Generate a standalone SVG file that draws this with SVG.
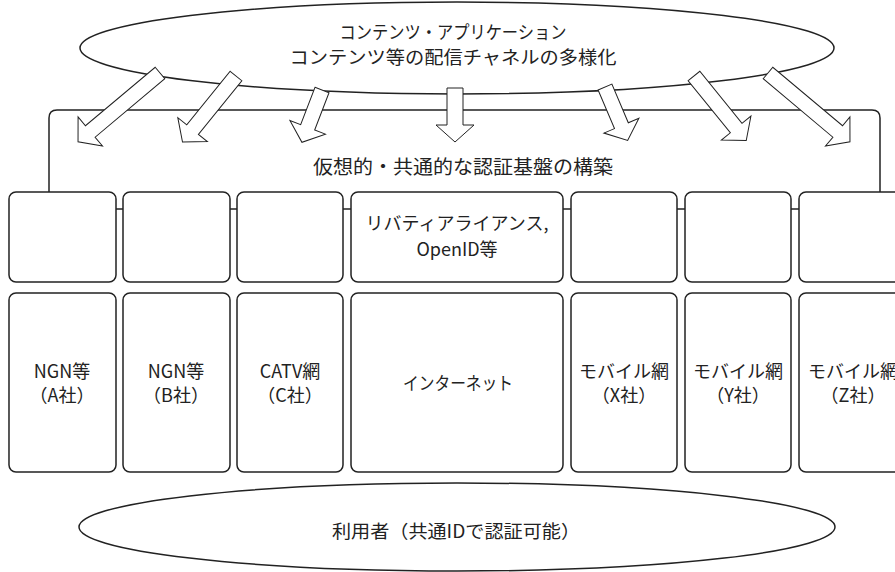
<svg xmlns="http://www.w3.org/2000/svg" width="895" height="572" viewBox="0 0 895 572">
<style>
.ln{fill:none;stroke:#222;stroke-width:1.5}
.bx{fill:#fff;stroke:#222;stroke-width:1.5}
.ar{fill:#fff;stroke:#222;stroke-width:1;stroke-linejoin:miter}
text{font-family:"Noto Sans CJK JP","Noto Sans",sans-serif;font-size:18px;fill:#222;text-anchor:middle}
.big{font-size:19px}
</style>
<rect width="895" height="572" fill="#fff"/>
<g id="apps">
<ellipse class="bx" cx="457" cy="48" rx="377" ry="46"/>
<text x="453" y="39" textLength="227" lengthAdjust="spacingAndGlyphs">コンテンツ・アプリケーション</text>
<text x="453" y="64" textLength="327" lengthAdjust="spacingAndGlyphs">コンテンツ等の配信チャネルの多様化</text>
</g>
<g id="platform">
<path class="ln" d="M49,192 V118 Q49,110 57,110 H872 Q880,110 880,118 V192"/>
<text class="big" x="463" y="174" textLength="300" lengthAdjust="spacingAndGlyphs">仮想的・共通的な認証基盤の構築</text>
</g>
<g id="connectors">
<g class="ln">
<line x1="116" y1="209" x2="123" y2="209"/>
<line x1="230" y1="209" x2="237" y2="209"/>
<line x1="343" y1="209" x2="351" y2="209"/>
<line x1="563" y1="209" x2="571" y2="209"/>
<line x1="677" y1="209" x2="685" y2="209"/>
<line x1="791" y1="209" x2="799" y2="209"/>
</g>
<polygon class="ar" transform="translate(160,73) rotate(50)" points="-7.5,0 7.5,0 7.5,91 19,91 0,107 -19,91 -7.5,91"/>
<polygon class="ar" transform="translate(236,76) rotate(39)" points="-7.5,0 7.5,0 7.5,69 19,69 0,85 -19,69 -7.5,69"/>
<polygon class="ar" transform="translate(322,90) rotate(21)" points="-7.5,0 7.5,0 7.5,40 19,40 0,56 -19,40 -7.5,40"/>
<polygon class="ar" transform="translate(455,88)" points="-8,0 8,0 8,37 19,37 0,54 -19,37 -8,37"/>
<polygon class="ar" transform="translate(605,87) rotate(-23)" points="-7.5,0 7.5,0 7.5,42 19,42 0,58 -19,42 -7.5,42"/>
<polygon class="ar" transform="translate(694,76) rotate(-39)" points="-7.5,0 7.5,0 7.5,67 19,67 0,83 -19,67 -7.5,67"/>
<polygon class="ar" transform="translate(768,73) rotate(-50)" points="-7.5,0 7.5,0 7.5,91 19,91 0,107 -19,91 -7.5,91"/>
</g>
<g id="auth1"><rect class="bx" x="9" y="192" width="107" height="90" rx="7"/></g>
<g id="auth2"><rect class="bx" x="123" y="192" width="107" height="90" rx="7"/></g>
<g id="auth3"><rect class="bx" x="237" y="192" width="106" height="90" rx="7"/></g>
<g id="auth4"><rect class="bx" x="351" y="192" width="212" height="90" rx="7"/>
<text x="457" y="230">リバティアライアンス,</text>
<text x="457" y="256">OpenID等</text></g>
<g id="auth5"><rect class="bx" x="571" y="192" width="106" height="90" rx="7"/></g>
<g id="auth6"><rect class="bx" x="685" y="192" width="106" height="90" rx="7"/></g>
<g id="auth7"><rect class="bx" x="799" y="192" width="120" height="90" rx="7"/></g>
<g id="netA"><rect class="bx" x="9" y="293" width="107" height="179" rx="7"/>
<text x="62" y="378">NGN等</text><text x="62" y="402">（A社）</text></g>
<g id="netB"><rect class="bx" x="123" y="293" width="107" height="179" rx="7"/>
<text x="176" y="378">NGN等</text><text x="176" y="402">（B社）</text></g>
<g id="netC"><rect class="bx" x="237" y="293" width="106" height="179" rx="7"/>
<text x="290" y="378">CATV網</text><text x="290" y="402">（C社）</text></g>
<g id="internet"><rect class="bx" x="351" y="293" width="212" height="179" rx="7"/>
<text x="458" y="390" textLength="110" lengthAdjust="spacingAndGlyphs">インターネット</text></g>
<g id="netX"><rect class="bx" x="571" y="293" width="106" height="179" rx="7"/>
<text x="624" y="378">モバイル網</text><text x="624" y="402">（X社）</text></g>
<g id="netY"><rect class="bx" x="685" y="293" width="106" height="179" rx="7"/>
<text x="738" y="378">モバイル網</text><text x="738" y="402">（Y社）</text></g>
<g id="netZ"><rect class="bx" x="799" y="293" width="120" height="179" rx="7"/>
<text x="853" y="378">モバイル網</text><text x="853" y="402">（Z社）</text></g>
<g id="users">
<ellipse class="bx" cx="457" cy="527" rx="378" ry="44"/>
<text x="456" y="538" textLength="248" lengthAdjust="spacingAndGlyphs">利用者（共通IDで認証可能）</text>
</g>
</svg>
